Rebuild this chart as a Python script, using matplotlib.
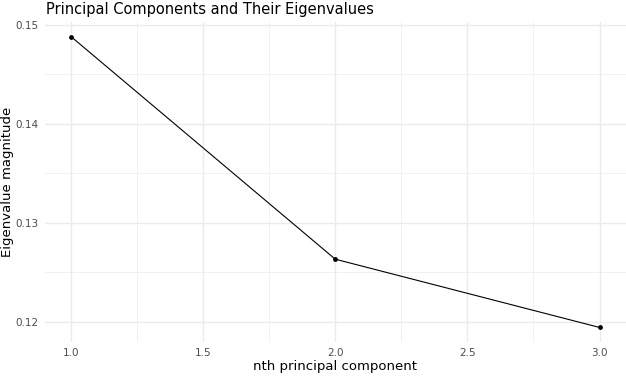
import matplotlib
matplotlib.use("Agg")
import matplotlib.pyplot as plt
from matplotlib.ticker import MultipleLocator

# Eigenvalues of the first three principal components
components = [1, 2, 3]
eigenvalues = [0.1488, 0.1263, 0.1194]

fig = plt.figure(figsize=(6.26, 3.76), dpi=100)
ax = fig.add_axes([0.0711, 0.0904, 0.9289, 0.8511])

ax.plot(components, eigenvalues, color="black", linewidth=0.8, zorder=3)
ax.scatter(components, eigenvalues, color="black", s=6, zorder=4)

# ggplot-like 5% expansion
span_x = max(components) - min(components)
span_y = max(eigenvalues) - min(eigenvalues)
ax.set_xlim(min(components) - 0.05 * span_x, max(components) + 0.05 * span_x)
ax.set_ylim(min(eigenvalues) - 0.05 * span_y, max(eigenvalues) + 0.05 * span_y)

ax.xaxis.set_major_locator(MultipleLocator(0.5))
ax.xaxis.set_minor_locator(MultipleLocator(0.25))
ax.yaxis.set_major_locator(MultipleLocator(0.01))
ax.yaxis.set_minor_locator(MultipleLocator(0.005))
ax.xaxis.set_major_formatter(lambda v, p: f"{v:.1f}")
ax.yaxis.set_major_formatter(lambda v, p: f"{v:.2f}")

ax.grid(which="major", color="#EBEBEB", linewidth=1.0)
ax.grid(which="minor", color="#EBEBEB", linewidth=0.5)
ax.set_axisbelow(True)
for s in ax.spines.values():
    s.set_visible(False)
ax.tick_params(which="both", length=0, labelsize=7.5, labelcolor="#4D4D4D", pad=4)

ax.set_xlabel("nth principal component", fontsize=9.5, labelpad=2)
ax.set_ylabel("Eigenvalue magnitude", fontsize=9.5, va="center")
ax.yaxis.set_label_coords(-0.063, 0.5)
fig.text(0.0735, 0.975, "Principal Components and Their Eigenvalues", fontsize=10.5, va="center", ha="left")

fig.savefig("out.png", dpi=100)
